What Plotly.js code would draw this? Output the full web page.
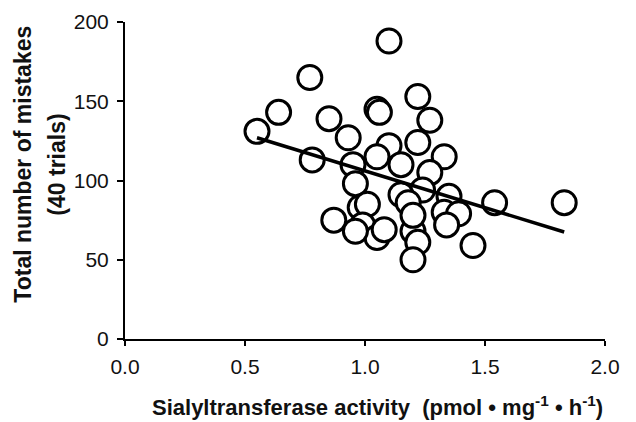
<!DOCTYPE html>
<html>
<head>
<meta charset="utf-8">
<script src="https://cdn.plot.ly/plotly-3.0.1.min.js"></script>
<style>
html,body{margin:0;padding:0;background:#fff;}
#chart{width:636px;height:422px;}
</style>
</head>
<body>
<div id="chart"></div>
<script>
// Sialyltransferase activity (pmol·mg-1·h-1)
const activity = [0.55,0.64,0.77,1.10,0.85,1.05,1.06,1.22,1.27,0.93,
                  1.10,1.22,0.78,0.95,1.05,1.15,1.33,1.27,0.96,1.24,
                  1.15,1.18,1.35,1.33,1.39,1.34,0.98,1.01,0.87,0.99,
                  1.05,1.08,0.96,1.20,1.22,1.20,1.45,1.54,1.83,1.20];
// Total number of mistakes (40 trials)
const mistakes = [131,143,165,188,139,145,143,153,138,127,
                  122,124,113,110,115,110,115,105,98,94,
                  91,86,90,80,79,72,83,85,75,72,
                  64,69,68,68,61,50,59,86,86,78];
// regression line end points
const fitX = [0.55, 1.83];
const fitY = [127, 67.5];

const xTickVals = [0, 0.5, 1.0, 1.5, 2.0];
const xTickText = ['0.0','0.5','1.0','1.5','2.0'];
const yTickVals = [0, 50, 100, 150, 200];
const yTickText = ['0','50','100','150','200'];

const FONT = '"Liberation Sans", Arial, Helvetica, sans-serif';

const traces = [
  {
    type: 'scatter', mode: 'markers',
    x: activity, y: mistakes,
    marker: {symbol: 'circle', size: 24, color: '#ffffff', line: {color: '#000000', width: 3}},
    cliponaxis: false, hoverinfo: 'skip', showlegend: false
  },
  {
    type: 'scatter', mode: 'lines',
    x: fitX, y: fitY,
    line: {color: '#000000', width: 3.5},
    cliponaxis: false, hoverinfo: 'skip', showlegend: false
  }
];

const layout = {
  width: 636, height: 422,
  margin: {l: 125, r: 31, t: 22, b: 83},
  paper_bgcolor: '#ffffff', plot_bgcolor: '#ffffff',
  showlegend: false,
  font: {family: FONT, color: '#111111', size: 21},
  xaxis: {
    range: [0, 2], tickvals: xTickVals, ticktext: xTickText,
    showgrid: false, zeroline: false, showline: true, linecolor: '#000', linewidth: 2,
    ticks: 'outside', ticklen: 5, tickwidth: 2, tickcolor: '#000',
    tickfont: {family: FONT, size: 21, color: '#111'},
    ticklabelstandoff: 3, fixedrange: true
  },
  yaxis: {
    range: [0, 200], tickvals: yTickVals, ticktext: yTickText,
    showgrid: false, zeroline: false, showline: true, linecolor: '#000', linewidth: 2,
    ticks: 'outside', ticklen: 6, tickwidth: 2, tickcolor: '#000',
    tickfont: {family: FONT, size: 21, color: '#111'},
    ticklabelstandoff: 4, fixedrange: true
  },
  annotations: [
    {
      xref: 'paper', yref: 'paper', x: 0, y: 0.55, xshift: -102,
      xanchor: 'center', yanchor: 'middle', textangle: -90, showarrow: false,
      text: '<b>Total number of mistakes</b>',
      font: {family: FONT, size: 23, color: '#111'}
    },
    {
      xref: 'paper', yref: 'paper', x: 0, y: 0.55, xshift: -68,
      xanchor: 'center', yanchor: 'middle', textangle: -90, showarrow: false,
      text: '<b>(40 trials)</b>',
      font: {family: FONT, size: 23, color: '#111'}
    },
    {
      xref: 'paper', yref: 'paper', x: 0.527, y: 0, yshift: -67,
      xanchor: 'center', yanchor: 'middle', showarrow: false,
      text: '<b>Sialyltransferase activity  (pmol • mg<sup>-1</sup> • h<sup>-1</sup>)</b>',
      font: {family: FONT, size: 22, color: '#111'}
    }
  ]
};

Plotly.newPlot('chart', traces, layout, {staticPlot: true, displayModeBar: false});
</script>
</body>
</html>
